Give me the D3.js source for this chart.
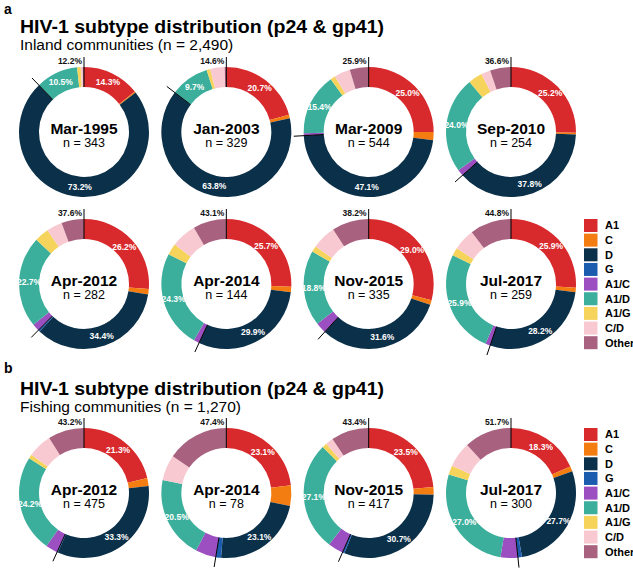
<!DOCTYPE html>
<html>
<head>
<meta charset="utf-8">
<script src="https://cdn.jsdelivr.net/npm/d3@7"></script>
<style>
  html, body { margin: 0; padding: 0; background: #fff; }
  svg { display: block; font-family: "Liberation Sans", Arial, Helvetica, sans-serif; }
</style>
</head>
<body>
<svg id="chart" width="633" height="569"></svg>
<script>
// ---------- DATA ----------
const subtypes = ["A1", "C", "D", "G", "A1/C", "A1/D", "A1/G", "C/D", "Other"];
const subtypeColors = ["#d8292c", "#f47d12", "#0b3049", "#1c5cae", "#9c4fc0", "#3caf9c", "#f6d35b", "#f8c9d0", "#a8617f"];
const labeledSubtypes = ["A1", "D", "A1/D"];

const inlandDates = ["Mar-1995", "Jan-2003", "Mar-2009", "Sep-2010", "Apr-2012", "Apr-2014", "Nov-2015", "Jul-2017"];
const inlandN = [343, 329, 544, 254, 282, 144, 335, 259];
const inlandRecomb = [12.2, 14.6, 25.9, 36.6, 37.6, 43.1, 38.2, 44.8];
// order: A1, C, D, G, A1/C, A1/D, A1/G, C/D, Other
const inlandValues = [
  [14.3, 0.3, 73.2, 0.0, 0.0, 10.5, 0.9, 0.5, 0.3],
  [20.7, 0.9, 63.8, 0.0, 0.0, 9.7, 0.9, 3.6, 0.4],
  [25.0, 2.0, 47.1, 0.0, 0.6, 15.4, 1.2, 4.0, 4.7],
  [25.2, 0.4, 37.8, 0.0, 1.6, 24.0, 3.5, 2.3, 5.2],
  [26.2, 1.4, 34.4, 0.4, 1.8, 22.7, 3.6, 3.9, 5.6],
  [25.7, 1.3, 29.9, 0.0, 1.4, 24.3, 2.8, 6.3, 8.3],
  [29.0, 1.2, 31.6, 0.0, 2.7, 18.8, 1.5, 6.0, 9.2],
  [25.9, 1.1, 28.2, 0.0, 1.2, 25.9, 2.0, 5.4, 10.3]
];

const fishingDates = ["Apr-2012", "Apr-2014", "Nov-2015", "Jul-2017"];
const fishingN = [475, 78, 417, 300];
const fishingRecomb = [43.2, 47.4, 43.4, 51.7];
const fishingValues = [
  [21.3, 2.0, 33.3, 0.2, 3.0, 24.2, 1.0, 6.0, 9.0],
  [23.1, 5.1, 23.1, 1.3, 5.1, 20.5, 0.0, 6.4, 15.4],
  [23.5, 1.9, 30.7, 0.5, 3.8, 27.1, 1.2, 1.9, 9.4],
  [18.3, 1.3, 27.7, 1.0, 4.3, 27.0, 2.3, 6.3, 11.8]
];

// ---------- LAYOUT ----------
const svg = d3.select("#chart");
const color = d3.scaleOrdinal().domain(subtypes).range(subtypeColors);
const xCol = d3.scalePoint().domain([0, 1, 2, 3]).range([84, 511]);
const yRow = d3.scaleOrdinal().domain(["a1", "a2", "b1"]).range([132, 284, 493]);
const R = 65, r = 45;

const pie = d3.pie().sort(null).value(d => d.v).startAngle(0).endAngle(2 * Math.PI);
const arc = d3.arc().innerRadius(r).outerRadius(R);
const labelArc = d3.arc().innerRadius(55).outerRadius(55);

function donut(cx, cy, date, n, vals, recomb) {
  const g = svg.append("g").attr("transform", `translate(${cx},${cy})`);
  const data = subtypes.map((s, i) => ({ s, v: vals[i] }));
  const arcs = pie(data);
  g.selectAll("path.slice").data(arcs).join("path")
    .attr("class", "slice")
    .attr("d", arc)
    .attr("fill", d => color(d.data.s));
  // inner labels
  g.selectAll("text.pct").data(arcs.filter(d => labeledSubtypes.includes(d.data.s) && d.data.v > 0)).join("text")
    .attr("class", "pct")
    .attr("transform", d => `translate(${labelArc.centroid(d)})`)
    .attr("text-anchor", "middle")
    .attr("dy", "0.35em")
    .attr("fill", "#fff")
    .attr("font-size", 8.5)
    .attr("font-weight", "bold")
    .text(d => d.data.v.toFixed(1) + "%");
  // recombinant boundary lines
  const recStart = arcs[subtypes.indexOf("A1/C")].startAngle;
  [0, recStart].forEach(a => {
    g.append("line")
      .attr("x1", Math.sin(a) * r).attr("y1", -Math.cos(a) * r)
      .attr("x2", Math.sin(a) * (R + 10)).attr("y2", -Math.cos(a) * (R + 10))
      .attr("stroke", "#000").attr("stroke-width", 1);
  });
  g.append("text")
    .attr("x", -2).attr("y", -R - 3)
    .attr("text-anchor", "end")
    .attr("font-size", 8.5).attr("font-weight", "bold").attr("fill", "#111")
    .text(recomb.toFixed(1) + "%");
  // center labels
  g.append("text").attr("x", 0).attr("y", 1.5)
    .attr("text-anchor", "middle").attr("font-size", 15.5).attr("font-weight", "bold").attr("fill", "#000")
    .text(date);
  g.append("text").attr("x", 0).attr("y", 15)
    .attr("text-anchor", "middle").attr("font-size", 12.5).attr("fill", "#000")
    .text("n = " + n);
}

inlandDates.forEach((d, i) => {
  donut(xCol(i % 4), yRow(i < 4 ? "a1" : "a2"), d, inlandN[i], inlandValues[i], inlandRecomb[i]);
});
fishingDates.forEach((d, i) => {
  donut(xCol(i), yRow("b1"), d, fishingN[i], fishingValues[i], fishingRecomb[i]);
});

// titles
function header(letter, letterY, titleY, sub, subY) {
  svg.append("text").attr("x", 4).attr("y", letterY).attr("font-size", 14).attr("font-weight", "bold").text(letter);
  svg.append("text").attr("x", 20).attr("y", titleY).attr("font-size", 19).attr("font-weight", "bold")
    .attr("textLength", 364).attr("lengthAdjust", "spacingAndGlyphs")
    .text("HIV-1 subtype distribution (p24 & gp41)");
  svg.append("text").attr("x", 20).attr("y", subY).attr("font-size", 15.5).text(sub);
}
header("a", 14, 33, "Inland communities (n = 2,490)", 50);
header("b", 373, 395, "Fishing communities (n = 1,270)", 412);

// legends
function legend(top) {
  const lg = svg.append("g").attr("transform", `translate(584,${top})`);
  const step = 14.65;
  subtypes.forEach((s, i) => {
    lg.append("rect").attr("x", 0).attr("y", i * step).attr("width", 13.5).attr("height", 13)
      .attr("fill", color(s));
    lg.append("text").attr("x", 21).attr("y", i * step + 6.5).attr("dy", "0.35em")
      .attr("font-size", 11).attr("font-weight", "bold").text(s);
  });
}
legend(219);
legend(428);
</script>
</body>
</html>
